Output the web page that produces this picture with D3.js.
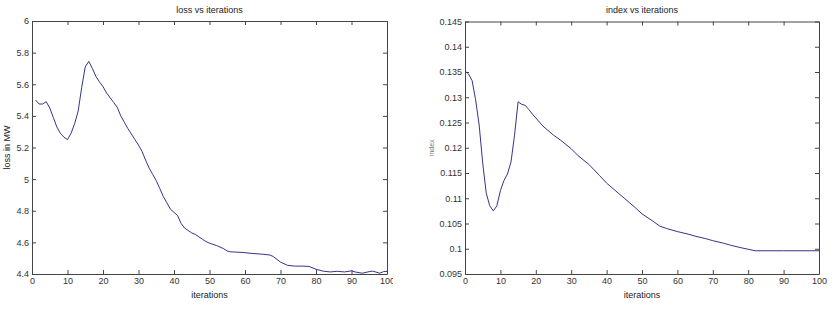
<!DOCTYPE html>
<html>
<head>
<meta charset="utf-8">
<script src="https://cdn.jsdelivr.net/npm/d3@7"></script>
<style>
  body { margin: 0; background: #fff; }
  svg { display: block; font-family: "Liberation Sans", Arial, sans-serif; }
  .axis text { font-size: 9px; fill: #333; }
  .axis path, .axis line { stroke: #444; }
</style>
</head>
<body>
<div id="chart"></div>
<script>
// loss vs iterations (left panel)
const lossIter = [1,2,3,4,5,6,7,8,9,10,11,12,13,14,15,16,17,18,19,20,21,22,23,24,25,26,27,28,29,30,
  31,32,33,34,35,36,37,38,39,40,41,42,43,44,45,46,47,48,49,50,52,54,55,56,58,60,62,65,67,68,
  70,72,74,76,78,80,82,84,86,88,90,91,93,95,96,98,99,100]
const lossValues = [5.50,5.475,5.475,5.49,5.45,5.39,5.33,5.29,5.265,5.25,5.29,5.35,5.43,5.58,5.71,5.745,5.70,5.65,5.615,5.585,
  5.545,5.515,5.485,5.455,5.40,5.36,5.32,5.285,5.25,5.215,5.175,5.12,5.07,5.03,4.99,4.94,4.89,4.85,4.81,4.79,
  4.77,4.72,4.69,4.675,4.66,4.65,4.635,4.62,4.605,4.595,4.58,4.56,4.545,4.54,4.538,4.535,4.53,4.525,4.52,4.51,
  4.475,4.455,4.45,4.45,4.448,4.43,4.418,4.413,4.417,4.413,4.42,4.413,4.405,4.415,4.418,4.405,4.415,4.417]

// index vs iterations (right panel)
const indexIter = [0,1,2,3,4,5,6,7,8,9,10,11,12,13,14,15,16,17,18,19,20,22,25,27,30,32,35,38,40,42,
  45,48,50,53,55,57,60,63,65,68,70,73,75,78,80,82,90,100]
const indexValues = [0.1352,0.1346,0.1333,0.1295,0.1245,0.117,0.111,0.1085,0.1075,0.1085,0.1115,0.1135,0.1148,0.1172,0.1225,0.1291,0.1286,0.1284,0.1276,0.1267,
  0.1259,0.1243,0.1225,0.1215,0.1198,0.1184,0.1167,0.1145,0.1130,0.1118,0.1100,0.1082,0.1069,0.1055,0.1045,0.1040,0.1034,0.1029,0.1025,0.1020,
  0.1016,0.1011,0.1007,0.1002,0.0999,0.0996,0.0996,0.0996]

const xTicks = [0,10,20,30,40,50,60,70,80,90,100]
const lossTicks = [4.4,4.6,4.8,5,5.2,5.4,5.6,5.8,6]
const indexTicks = [0.095,0.1,0.105,0.11,0.115,0.12,0.125,0.13,0.135,0.14,0.145]

const W = 836, H = 310
const lineColor = '#34348a'

const svg = d3.select('#chart').append('svg')
  .attr('width', W)
  .attr('height', H)

svg.append('defs').append('clipPath')
  .attr('id', 'leftClip')
  .append('rect')
  .attr('x', 0).attr('y', 0).attr('width', 393).attr('height', H)

function panel(g, opts) {
  const { x0, x1, y0, y1, xs, ys, yDomain, yTicks, yFmt, title, yLabel, yLabelX, yLabelStyle } = opts

  const x = d3.scaleLinear().domain([0, 100]).range([x0, x1])
  const y = d3.scaleLinear().domain(yDomain).range([y1, y0])

  g.append('rect')
    .attr('x', x0).attr('y', y0)
    .attr('width', x1 - x0).attr('height', y1 - y0)
    .attr('fill', '#fff')

  // bottom and left axes with inward ticks
  g.append('g').attr('class', 'axis')
    .attr('transform', `translate(0,${y1})`)
    .call(d3.axisBottom(x).tickValues(xTicks).tickSizeInner(-4).tickSizeOuter(0).tickPadding(4).tickFormat(d3.format('d')))

  g.append('g').attr('class', 'axis')
    .attr('transform', `translate(${x0},0)`)
    .call(d3.axisLeft(y).tickValues(yTicks).tickSizeInner(-4).tickSizeOuter(0).tickPadding(3).tickFormat(yFmt))

  // top and right axes, ticks only
  g.append('g').attr('class', 'axis')
    .attr('transform', `translate(0,${y0})`)
    .call(d3.axisTop(x).tickValues(xTicks).tickSizeInner(-4).tickSizeOuter(0).tickFormat(''))

  g.append('g').attr('class', 'axis')
    .attr('transform', `translate(${x1},0)`)
    .call(d3.axisRight(y).tickValues(yTicks).tickSizeInner(-4).tickSizeOuter(0).tickFormat(''))

  const line = d3.line()
    .x(d => x(d[0]))
    .y(d => y(d[1]))

  g.append('path')
    .datum(xs.map((v, i) => [v, ys[i]]))
    .attr('d', line)
    .attr('fill', 'none')
    .attr('stroke', lineColor)
    .attr('stroke-width', 1)

  const cx = (x0 + x1) / 2
  g.append('text')
    .attr('x', cx).attr('y', 13)
    .attr('text-anchor', 'middle')
    .attr('font-size', '9px')
    .attr('fill', '#222')
    .text(title)

  g.append('text')
    .attr('x', cx).attr('y', 298)
    .attr('text-anchor', 'middle')
    .attr('font-size', '9px')
    .attr('fill', '#222')
    .text('iterations')

  const cy = (y0 + y1) / 2
  g.append('text')
    .attr('transform', `translate(${yLabelX},${cy}) rotate(-90)`)
    .attr('text-anchor', 'middle')
    .attr('font-size', yLabelStyle.size)
    .attr('fill', yLabelStyle.color)
    .text(yLabel)
}

panel(svg.append('g').attr('clip-path', 'url(#leftClip)'), {
  x0: 32, x1: 387, y0: 21, y1: 274,
  xs: lossIter, ys: lossValues,
  yDomain: [4.4, 6], yTicks: lossTicks, yFmt: d3.format('~g'),
  title: 'loss vs iterations', yLabel: 'loss in MW', yLabelX: 10,
  yLabelStyle: { size: '9px', color: '#222' }
})

panel(svg.append('g'), {
  x0: 465, x1: 819, y0: 21.5, y1: 274,
  xs: indexIter, ys: indexValues,
  yDomain: [0.095, 0.145], yTicks: indexTicks, yFmt: d3.format('~g'),
  title: 'index vs iterations', yLabel: 'index', yLabelX: 434,
  yLabelStyle: { size: '7px', color: '#777' }
})
</script>
</body>
</html>
